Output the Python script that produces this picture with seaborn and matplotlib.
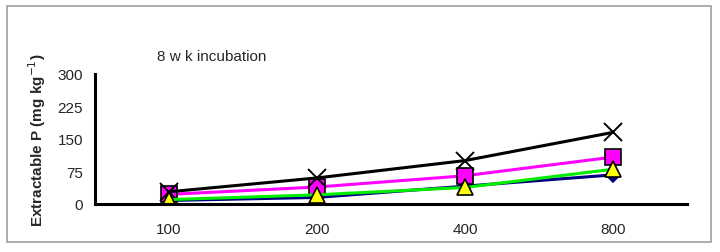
import pandas as pd
import numpy as np
import seaborn as sns
import matplotlib.pyplot as plt
from matplotlib.patches import Rectangle

sns.set_style("white")
plt.rcParams['font.family'] = ['Liberation Sans', 'DejaVu Sans']

# --- Data ---
rates = ["100", "200", "400", "800"]
serie_navy = [8, 15, 41, 67]
serie_magenta = [22, 39, 65, 108]
serie_black = [28, 60, 100, 165]
serie_yellow = [10, 21, 38, 80]

fig = plt.figure(figsize=(7.2, 2.53), dpi=100)
ax = fig.add_axes([0.132, 0.19, 0.822, 0.514])

estilos = [
    (serie_navy, "#000080", "D", "#000080", "#000080", 7),
    (serie_magenta, "#FF00FF", "s", "#FF00FF", "black", 11),
    (serie_black, "black", "x", "black", "black", 13),
    (serie_yellow, "#00EE00", "^", "#FFFF00", "black", 12),
]

for vals, col, mk, fc, ec, ms in estilos:
    df = pd.DataFrame({"rate": rates, "P": vals})
    sns.lineplot(data=df, x="rate", y="P", ax=ax, color=col, linewidth=2.2,
                 marker=mk, markersize=ms, markerfacecolor=fc,
                 markeredgecolor=ec, markeredgewidth=1.2 if mk != "x" else 1.4)

ax.set_xlim(-0.5, 3.5)
ax.set_ylim(0, 300)
ax.set_yticks([0, 75, 150, 225, 300])
ax.set_xticks(range(len(rates)))
ax.set_xticklabels(rates)
ax.set_xticks(np.arange(-0.5, 3.6, 1), minor=True)
ax.tick_params(axis="x", which="major", length=0, labelsize=11, pad=13)
ax.tick_params(axis="x", which="minor", length=4, width=2, direction="out")
ax.tick_params(axis="y", length=5, width=2, direction="out", labelsize=11)

sns.despine(ax=ax)
for s in ["left", "bottom"]:
    ax.spines[s].set_linewidth(2.2)
    ax.spines[s].set_color("black")

ax.set_xlabel("")
ax.set_ylabel("Extractable P (mg kg$^{-1}$)", fontsize=11, fontweight="bold")
ax.yaxis.set_label_coords(-0.08, 0.5)

fig.text(0.218, 0.758, "8 w k incubation", fontsize=11)

# marco gris
fig.patches.append(Rectangle((0.01, 0.04), 0.978, 0.932, transform=fig.transFigure,
                             fill=False, edgecolor="#A0A0A0", linewidth=1.2))

fig.savefig("out.png", dpi=100)
